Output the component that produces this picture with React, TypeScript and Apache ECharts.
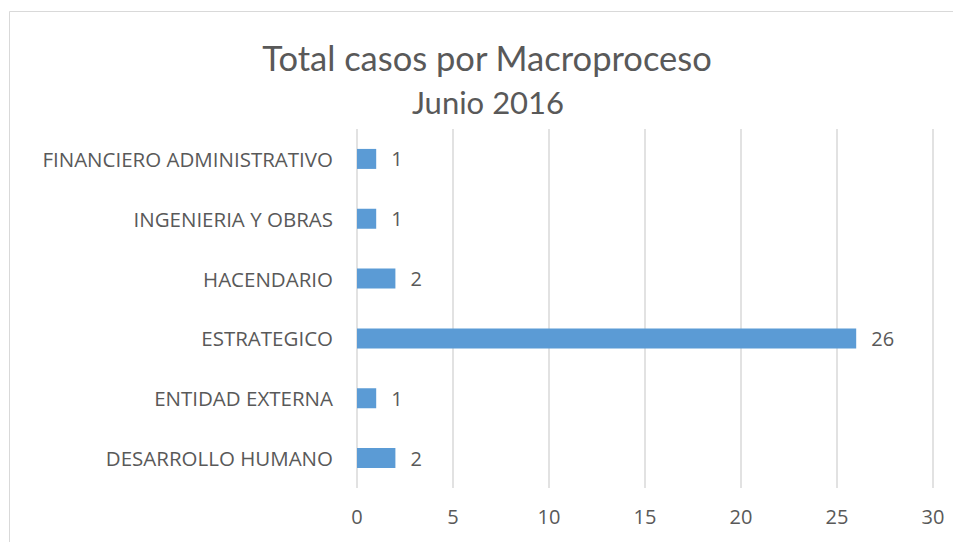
import React, { useEffect, useRef } from "react";
import * as echarts from "echarts";

const categories = [
  "DESARROLLO HUMANO",
  "ENTIDAD EXTERNA",
  "ESTRATEGICO",
  "HACENDARIO",
  "INGENIERIA Y OBRAS",
  "FINANCIERO ADMINISTRATIVO",
];
const values = [2, 1, 26, 2, 1, 1];
const titleLine1 = "Total casos por Macroproceso";
const titleLine2 = "Junio 2016";

const TITLE_FONT = "Lato, 'Open Sans', sans-serif";
const FONT = "'Open Sans', Lato, sans-serif";
const TEXT = "#595959";

export default function App() {
  const ref = useRef<HTMLDivElement>(null);
  useEffect(() => {
    if (!ref.current) return;
    const chart = echarts.init(ref.current, undefined, { renderer: "svg" });
    chart.setOption({
      animation: false,
      backgroundColor: "#ffffff",
      textStyle: { fontFamily: FONT },
      grid: { left: 357, right: 20, top: 129, bottom: 54, containLabel: false },
      graphic: [
        {
          type: "rect",
          shape: { x: 9.5, y: 11.5, width: 960, height: 560 },
          style: { fill: "none", stroke: "#d9d9d9", lineWidth: 1 },
          silent: true,
        },
        {
          type: "text",
          x: 487,
          y: 57,
          style: {
            text: titleLine1,
            fontFamily: TITLE_FONT,
            fontSize: 34.5,
            fill: TEXT,
            align: "center",
            verticalAlign: "middle",
          },
        },
        {
          type: "text",
          x: 488,
          y: 102,
          style: {
            text: titleLine2,
            fontFamily: TITLE_FONT,
            fontSize: 31,
            fill: TEXT,
            align: "center",
            verticalAlign: "middle",
          },
        },
      ],
      xAxis: {
        type: "value",
        min: 0,
        max: 30,
        interval: 5,
        axisLine: { show: false },
        axisTick: { show: false },
        axisLabel: { color: TEXT, fontSize: 20, fontFamily: FONT, margin: 18 },
        splitLine: { show: true, lineStyle: { color: "#d9d9d9", width: 1.5 } },
      },
      yAxis: {
        type: "category",
        data: categories,
        axisLine: { show: false },
        axisTick: { show: false },
        axisLabel: { color: TEXT, fontSize: 20.5, fontFamily: FONT, margin: 24 },
        splitLine: { show: false },
      },
      series: [
        {
          type: "bar",
          data: values,
          barWidth: 20,
          itemStyle: { color: "#5b9bd5" },
          label: {
            show: true,
            position: "right",
            distance: 15,
            color: TEXT,
            fontSize: 20,
            fontFamily: FONT,
          },
        },
      ],
    });
    return () => chart.dispose();
  }, []);
  return (
    <div
      ref={ref}
      style={{ position: "fixed", left: 0, top: 0, width: 953, height: 542 }}
    />
  );
}
